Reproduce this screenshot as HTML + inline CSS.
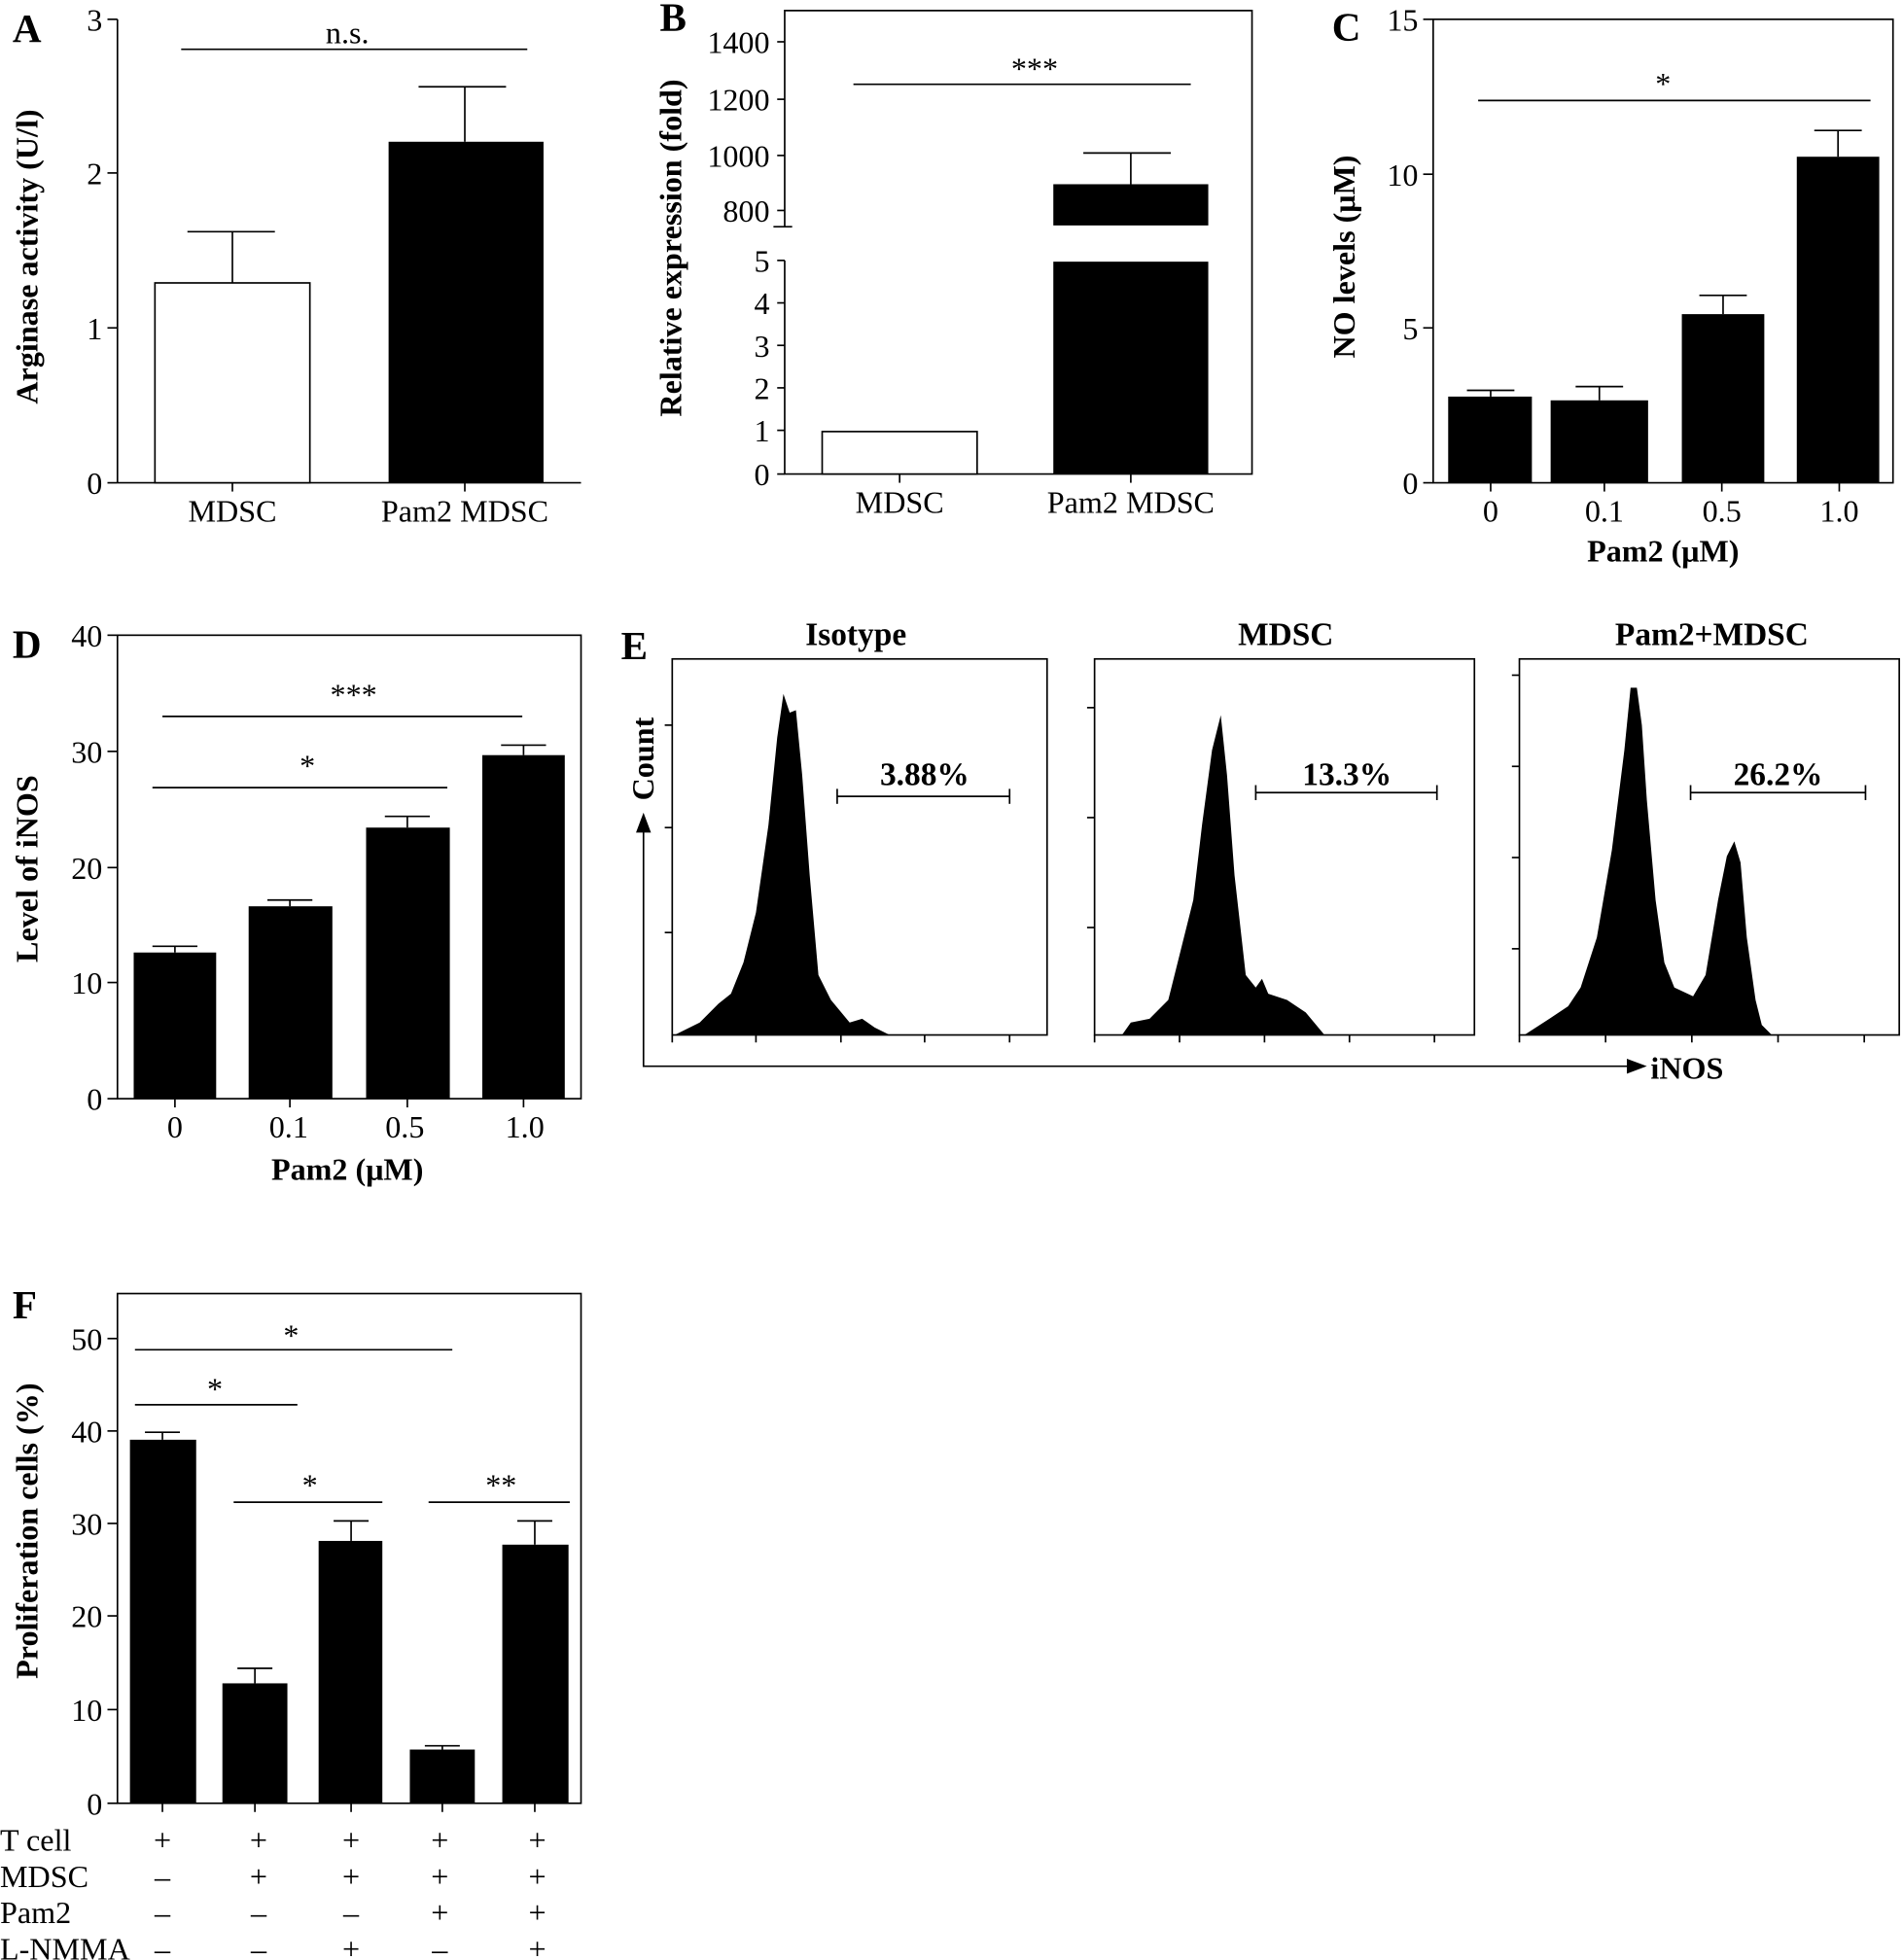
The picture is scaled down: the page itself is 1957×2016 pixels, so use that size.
<!DOCTYPE html>
<html><head><meta charset="utf-8"><style>html,body{margin:0;padding:0;background:#fff}svg{display:block}</style></head>
<body>
<svg width="1957" height="2016" viewBox="0 0 1523 1568" xmlns="http://www.w3.org/2000/svg" font-family="Liberation Serif, serif" font-size="25" fill="#000">
<rect width="1523" height="1568" fill="#fff"/>
<g stroke="#000" stroke-width="1.3" fill="none">
<!-- A -->
<line x1="94" y1="15" x2="94" y2="386"/><line x1="94" y1="386" x2="465" y2="386"/>
<line x1="86" y1="15" x2="94" y2="15"/><line x1="86" y1="138" x2="94" y2="138"/><line x1="86" y1="262" x2="94" y2="262"/><line x1="86" y1="386" x2="94" y2="386"/>
<line x1="186" y1="386" x2="186" y2="393"/><line x1="372" y1="386" x2="372" y2="393"/>
<line x1="186" y1="226" x2="186" y2="185"/><line x1="150" y1="185" x2="220" y2="185"/>
<line x1="372" y1="113" x2="372" y2="69"/><line x1="335" y1="69" x2="405" y2="69"/>
<line x1="145" y1="39" x2="422" y2="39"/>
<!-- B -->
<polyline points="628,181 628,8 1002,8 1002,379 628,379 628,208"/>
<line x1="619" y1="181" x2="634" y2="181"/>
<line x1="622" y1="33" x2="628" y2="33"/><line x1="622" y1="79" x2="628" y2="79"/><line x1="622" y1="124" x2="628" y2="124"/><line x1="622" y1="168" x2="628" y2="168"/>
<line x1="622" y1="208" x2="628" y2="208"/><line x1="622" y1="242" x2="628" y2="242"/><line x1="622" y1="276" x2="628" y2="276"/><line x1="622" y1="310" x2="628" y2="310"/><line x1="622" y1="344" x2="628" y2="344"/><line x1="622" y1="379" x2="628" y2="379"/>
<line x1="720" y1="379" x2="720" y2="386"/><line x1="905" y1="379" x2="905" y2="386"/>
<line x1="905" y1="147" x2="905" y2="122"/><line x1="867" y1="122" x2="937" y2="122"/>
<line x1="683" y1="67" x2="953" y2="67"/>
<!-- C -->
<rect x="1147" y="15" width="368" height="371"/>
<line x1="1139" y1="15" x2="1147" y2="15"/><line x1="1139" y1="139" x2="1147" y2="139"/><line x1="1139" y1="262" x2="1147" y2="262"/><line x1="1139" y1="386" x2="1147" y2="386"/>
<line x1="1193" y1="386" x2="1193" y2="393"/><line x1="1284" y1="386" x2="1284" y2="393"/><line x1="1378" y1="386" x2="1378" y2="393"/><line x1="1472" y1="386" x2="1472" y2="393"/>
<line x1="1193" y1="317" x2="1193" y2="312"/><line x1="1174" y1="312" x2="1212" y2="312"/>
<line x1="1280" y1="320" x2="1280" y2="309"/><line x1="1261" y1="309" x2="1299" y2="309"/>
<line x1="1379" y1="251" x2="1379" y2="236"/><line x1="1360" y1="236" x2="1398" y2="236"/>
<line x1="1471" y1="125" x2="1471" y2="104"/><line x1="1452" y1="104" x2="1490" y2="104"/>
<line x1="1183" y1="80" x2="1497" y2="80"/>
<!-- D -->
<rect x="94" y="508" width="371" height="371"/>
<line x1="86" y1="508" x2="94" y2="508"/><line x1="86" y1="601" x2="94" y2="601"/><line x1="86" y1="694" x2="94" y2="694"/><line x1="86" y1="786" x2="94" y2="786"/><line x1="86" y1="879" x2="94" y2="879"/>
<line x1="140" y1="879" x2="140" y2="886"/><line x1="232" y1="879" x2="232" y2="886"/><line x1="326" y1="879" x2="326" y2="886"/><line x1="419" y1="879" x2="419" y2="886"/>
<line x1="140" y1="762" x2="140" y2="757"/><line x1="122" y1="757" x2="158" y2="757"/>
<line x1="232" y1="725" x2="232" y2="720"/><line x1="214" y1="720" x2="250" y2="720"/>
<line x1="326" y1="662" x2="326" y2="653"/><line x1="308" y1="653" x2="344" y2="653"/>
<line x1="419" y1="604" x2="419" y2="596"/><line x1="401" y1="596" x2="437" y2="596"/>
<line x1="130" y1="573" x2="418" y2="573"/><line x1="122" y1="630" x2="358" y2="630"/>
<!-- E -->
<rect x="538" y="527" width="300" height="301"/>
<rect x="876" y="527" width="304" height="301"/>
<rect x="1216" y="527" width="304" height="301"/>
<line x1="538" y1="828" x2="538" y2="834"/><line x1="605" y1="828" x2="605" y2="834"/><line x1="673" y1="828" x2="673" y2="834"/><line x1="740" y1="828" x2="740" y2="834"/><line x1="808" y1="828" x2="808" y2="834"/>
<line x1="876" y1="828" x2="876" y2="834"/><line x1="944" y1="828" x2="944" y2="834"/><line x1="1012" y1="828" x2="1012" y2="834"/><line x1="1080" y1="828" x2="1080" y2="834"/><line x1="1148" y1="828" x2="1148" y2="834"/>
<line x1="1216" y1="828" x2="1216" y2="834"/><line x1="1285" y1="828" x2="1285" y2="834"/><line x1="1354" y1="828" x2="1354" y2="834"/><line x1="1423" y1="828" x2="1423" y2="834"/><line x1="1492" y1="828" x2="1492" y2="834"/>
<line x1="532" y1="580" x2="538" y2="580"/><line x1="532" y1="662" x2="538" y2="662"/><line x1="532" y1="746" x2="538" y2="746"/>
<line x1="870" y1="566" x2="876" y2="566"/><line x1="870" y1="654" x2="876" y2="654"/><line x1="870" y1="742" x2="876" y2="742"/>
<line x1="1210" y1="540" x2="1216" y2="540"/><line x1="1210" y1="613" x2="1216" y2="613"/><line x1="1210" y1="686" x2="1216" y2="686"/><line x1="1210" y1="759" x2="1216" y2="759"/>
<line x1="670" y1="637" x2="808" y2="637"/><line x1="670" y1="631" x2="670" y2="643"/><line x1="808" y1="631" x2="808" y2="643"/>
<line x1="1005" y1="634" x2="1150" y2="634"/><line x1="1005" y1="628" x2="1005" y2="640"/><line x1="1150" y1="628" x2="1150" y2="640"/>
<line x1="1353" y1="634" x2="1493" y2="634"/><line x1="1353" y1="628" x2="1353" y2="640"/><line x1="1493" y1="628" x2="1493" y2="640"/>
<polyline points="515,665 515,853 1303,853"/>
<!-- F -->
<rect x="94" y="1035" width="371" height="408"/>
<line x1="86" y1="1071" x2="94" y2="1071"/><line x1="86" y1="1145" x2="94" y2="1145"/><line x1="86" y1="1219" x2="94" y2="1219"/><line x1="86" y1="1293" x2="94" y2="1293"/><line x1="86" y1="1368" x2="94" y2="1368"/><line x1="86" y1="1443" x2="94" y2="1443"/>
<line x1="130" y1="1443" x2="130" y2="1450"/><line x1="204" y1="1443" x2="204" y2="1450"/><line x1="281" y1="1443" x2="281" y2="1450"/><line x1="354" y1="1443" x2="354" y2="1450"/><line x1="428" y1="1443" x2="428" y2="1450"/>
<line x1="130" y1="1152" x2="130" y2="1146"/><line x1="116" y1="1146" x2="144" y2="1146"/>
<line x1="204" y1="1347" x2="204" y2="1335"/><line x1="190" y1="1335" x2="218" y2="1335"/>
<line x1="281" y1="1233" x2="281" y2="1217"/><line x1="267" y1="1217" x2="295" y2="1217"/>
<line x1="354" y1="1400" x2="354" y2="1397"/><line x1="340" y1="1397" x2="368" y2="1397"/>
<line x1="428" y1="1236" x2="428" y2="1217"/><line x1="414" y1="1217" x2="442" y2="1217"/>
<line x1="108" y1="1080" x2="362" y2="1080"/><line x1="108" y1="1124" x2="238" y2="1124"/>
<line x1="187" y1="1202" x2="306" y2="1202"/><line x1="343" y1="1202" x2="456" y2="1202"/>
</g>
<!-- bars -->
<rect x="124" y="226" width="124" height="160" fill="#fff" stroke="#000" stroke-width="1.3"/>
<rect x="311" y="113" width="124" height="273"/>
<rect x="658" y="345" width="124" height="34" fill="#fff" stroke="#000" stroke-width="1.3"/>
<rect x="843" y="209" width="124" height="170"/><rect x="843" y="147" width="124" height="33"/>
<rect x="1159" y="317" width="67" height="69"/><rect x="1241" y="320" width="78" height="66"/><rect x="1346" y="251" width="66" height="135"/><rect x="1438" y="125" width="66" height="261"/>
<rect x="107" y="762" width="66" height="117"/><rect x="199" y="725" width="67" height="154"/><rect x="293" y="662" width="67" height="217"/><rect x="386" y="604" width="66" height="275"/>
<rect x="104" y="1152" width="53" height="291"/><rect x="178" y="1347" width="52" height="96"/><rect x="255" y="1233" width="51" height="210"/><rect x="328" y="1400" width="52" height="43"/><rect x="402" y="1236" width="53" height="207"/>
<!-- histograms -->
<path d="M540,828 L560,818 575,803 585,795 595,770 605,730 615,660 622,590 627,555 632,570 637,568 642,620 648,700 655,780 665,800 680,818 690,815 700,822 712,828 Z"/>
<path d="M898,828 L905,818 920,815 935,800 945,760 955,720 962,660 970,600 977,572 982,620 988,700 997,780 1005,790 1010,783 1015,795 1030,800 1045,810 1060,828 Z"/>
<path d="M1220,828 L1240,815 1255,805 1265,790 1278,750 1290,680 1300,600 1305,550 1310,550 1314,580 1318,640 1325,720 1332,770 1340,790 1355,797 1365,780 1375,720 1382,685 1388,673 1393,690 1398,750 1405,800 1410,820 1418,828 Z"/>
<polygon points="515,650 509,666 521,666"/><polygon points="1318,853 1302,847 1302,859"/>
<!-- text -->
<g>
<g text-anchor="end"><text x="82" y="24">3</text><text x="82" y="147">2</text><text x="82" y="271">1</text><text x="82" y="395">0</text>
<text x="616" y="42">1400</text><text x="616" y="88">1200</text><text x="616" y="133">1000</text><text x="616" y="177">800</text>
<text x="616" y="217">5</text><text x="616" y="251">4</text><text x="616" y="285">3</text><text x="616" y="319">2</text><text x="616" y="353">1</text><text x="616" y="388">0</text>
<text x="1135" y="24">15</text><text x="1135" y="148">10</text><text x="1135" y="271">5</text><text x="1135" y="395">0</text>
<text x="82" y="517">40</text><text x="82" y="610">30</text><text x="82" y="703">20</text><text x="82" y="795">10</text><text x="82" y="888">0</text>
<text x="82" y="1080">50</text><text x="82" y="1154">40</text><text x="82" y="1228">30</text><text x="82" y="1302">20</text><text x="82" y="1377">10</text><text x="82" y="1452">0</text></g>
<g text-anchor="middle"><text x="186" y="417">MDSC</text><text x="372" y="417">Pam2 MDSC</text><text x="278" y="34">n.s.</text>
<text x="720" y="410">MDSC</text><text x="905" y="410">Pam2 MDSC</text><text x="828" y="63">***</text>
<text x="1193" y="417">0</text><text x="1284" y="417">0.1</text><text x="1378" y="417">0.5</text><text x="1472" y="417">1.0</text><text x="1331" y="75">*</text>
<text x="140" y="910">0</text><text x="231" y="910">0.1</text><text x="324" y="910">0.5</text><text x="420" y="910">1.0</text><text x="283" y="564">***</text><text x="246" y="621">*</text>
<text x="233" y="1077">*</text><text x="172" y="1120">*</text><text x="248" y="1197">*</text><text x="401" y="1197">**</text>
<g font-weight="bold"><text x="1331" y="449">Pam2 (μM)</text><text x="278" y="944">Pam2 (μM)</text>
<g font-size="26"><text x="685" y="516">Isotype</text><text x="1029" y="516">MDSC</text><text x="1370" y="516">Pam2+MDSC</text>
<text x="740" y="628">3.88%</text><text x="1078" y="628">13.3%</text><text x="1423" y="628">26.2%</text></g></g>
<g><text x="130" y="1481">+</text><text x="207" y="1481">+</text><text x="281" y="1481">+</text><text x="352" y="1481">+</text><text x="430" y="1481">+</text>
<text x="130" y="1510">–</text><text x="207" y="1510">+</text><text x="281" y="1510">+</text><text x="352" y="1510">+</text><text x="430" y="1510">+</text>
<text x="130" y="1539">–</text><text x="207" y="1539">–</text><text x="281" y="1539">–</text><text x="352" y="1539">+</text><text x="430" y="1539">+</text>
<text x="130" y="1568">–</text><text x="207" y="1568">–</text><text x="281" y="1568">+</text><text x="352" y="1568">–</text><text x="430" y="1568">+</text></g>
</g>
<text x="0" y="1481">T cell</text><text x="0" y="1510">MDSC</text><text x="0" y="1539">Pam2</text><text x="0" y="1568">L-NMMA</text>
<text x="1321" y="863" font-weight="bold">iNOS</text>
<g font-weight="bold" text-anchor="middle">
<text transform="translate(30,205) rotate(-90)">Arginase activity (U/l)</text>
<text transform="translate(545,198) rotate(-90)">Relative expression (fold)</text>
<text transform="translate(1084,205) rotate(-90)">NO levels (μM)</text>
<text transform="translate(30,695) rotate(-90)">Level of iNOS</text>
<text transform="translate(523,607) rotate(-90)">Count</text>
<text transform="translate(30,1225) rotate(-90)">Proliferation cells (%)</text>
</g>
<g font-weight="bold" font-size="32"><text x="10" y="33">A</text><text x="528" y="24">B</text><text x="1066" y="32">C</text><text x="10" y="526">D</text><text x="497" y="527">E</text><text x="10" y="1055">F</text></g>
</g>
</svg>
</body></html>
